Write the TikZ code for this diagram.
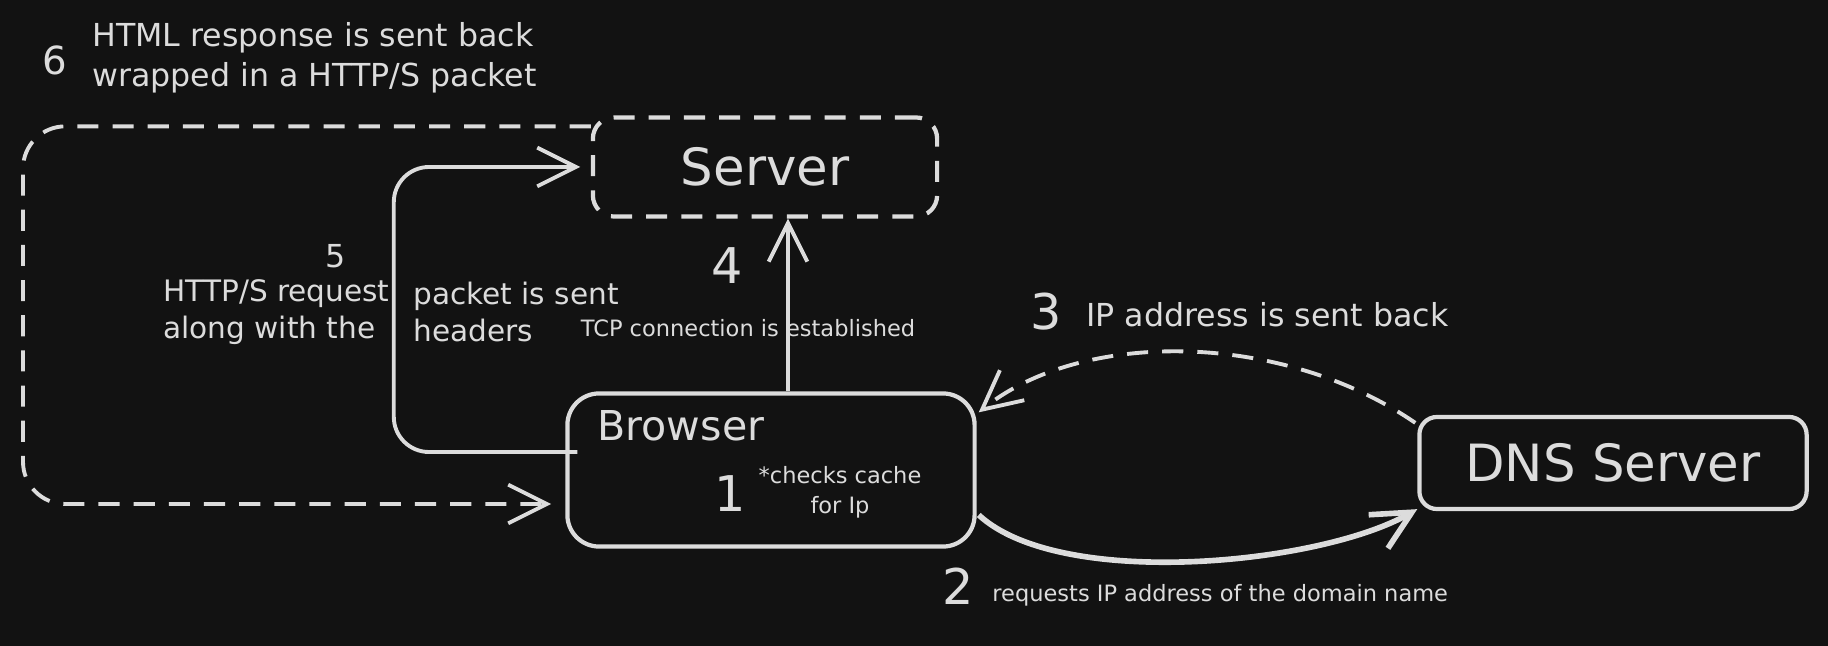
\documentclass[tikz,border=0pt]{standalone}
\usepackage{fontspec}
\setmainfont{DejaVu Sans}
\usepackage{tikz}
\usetikzlibrary{arrows.meta,calc,positioning}
\definecolor{bg}{HTML}{121212}
\definecolor{ink}{HTML}{DCDCDC}

\begin{document}
\begin{tikzpicture}[x=0.01cm,y=-0.01cm,>={Straight Barb[length=11pt,width=11pt]},
  line width=1.1pt,ink,text=ink,
  box/.style={draw,line width=1.2pt,inner sep=0pt},
  dashline/.style={dash pattern=on 6pt off 4pt},
  txt/.style={inner sep=1pt},
  big/.style={font=\fontsize{14.6}{17}\selectfont},
  num/.style={txt,font=\fontsize{14}{16}\selectfont},
  mid/.style={txt,font=\fontsize{9}{11.4}\selectfont},
  small/.style={txt,font=\fontsize{6.4}{8.5}\selectfont}]
  \fill[bg] (0,0) rectangle (1828,646);
  \useasboundingbox (0,0) rectangle (1828,646);

  % boxes
  \node[box,dashline,rounded corners=6pt,minimum width=3.44cm,minimum height=0.99cm,big] (server) at (765,167) {Server};
  \node[box,rounded corners=9pt,minimum width=4.07cm,minimum height=1.53cm] (browser) at (771,470) {};
  \node[box,rounded corners=5pt,minimum width=3.87cm,minimum height=0.92cm,big] (dns) at (1613,463) {DNS Server};
  \node[txt,font=\fontsize{11.7}{14}\selectfont,anchor=west] (browsertxt) at (592,426) {Browser};

  % 1: cache check
  \node[num] (n1) at (730,494) {1};
  \node[small,align=center] (cache) at (840,492) {*checks cache\\for Ip};

  % 2: browser -> dns
  \draw[->,line width=1.6pt] ($(browser.east)+(2,45)$) .. controls (1060,590) and (1320,565) .. ($(dns.south west)+(0,-2)$);
  \node[num] (n2) at (958,586) {2};
  \node[small,anchor=west] (req) at (987,595) {requests IP address of the domain name};

  % 3: dns -> browser
  \draw[->,dashline] ($(dns.north west)+(-2,8)$) .. controls (1280,330) and (1080,330) .. ($(browser.north east)+(2,21)$);
  \node[num] (n3) at (1046,312) {3};
  \node[mid,anchor=west] (ipback) at (1081,315) {IP address is sent back};

  % 4: tcp
  \coordinate (tcpx) at (788,300);
  \draw[->] (browser.north -| tcpx) -- (server.south -| tcpx);
  \node[num] (n4) at (727,266) {4};
  \node[small] (tcp) at (748,328) {TCP connection is established};

  % 5: request
  \draw[->,rounded corners=10pt,shorten >=3pt] ($(browser.west)+(12,-18)$) -| ($(server.west)+(-197,0)$) -- (server.west);
  \node[mid] (n5) at (336,256) {5};
  \node[mid,font=\fontsize{8.4}{10.4}\selectfont,align=left,anchor=west] (req5a) at (158,312) {HTTP/S request\\along with the};
  \node[mid,font=\fontsize{8.4}{10.4}\selectfont,align=left,anchor=west] (req5b) at (408,312) {packet is sent\\headers};

  % 6: response
  \coordinate (c6) at (23,504);
  \draw[->,dashline,rounded corners=12pt,shorten >=4pt] ($(server.north west)+(0,11)$) -| (c6) -- (browser.west |- c6);
  \node[font=\fontsize{11}{13}\selectfont] (n6) at (55,60) {6};
  \node[mid,align=left,anchor=west] (resp) at (87,58) {HTML response is sent back\\wrapped in a HTTP/S packet};
\end{tikzpicture}
\end{document}
